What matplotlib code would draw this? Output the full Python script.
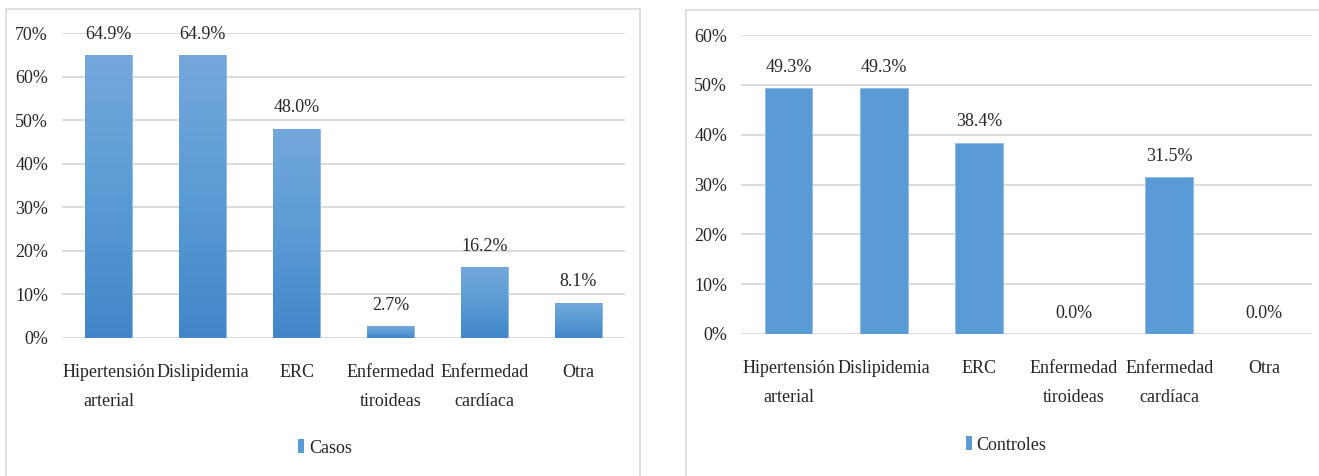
import numpy as np
import matplotlib
matplotlib.use("Agg")
import matplotlib.pyplot as plt
from matplotlib import patches as mpatches
from matplotlib.colors import LinearSegmentedColormap
from matplotlib.ticker import MultipleLocator, FuncFormatter

# ---------------- data ----------------
categorias = ["Hipertensión\narterial", "Dislipidemia", "ERC",
              "Enfermedad\ntiroideas", "Enfermedad\ncardíaca", "Otra"]
casos = [64.9, 64.9, 48.0, 2.7, 16.2, 8.1]
controles = [49.3, 49.3, 38.4, 0.0, 31.5, 0.0]

# ---------------- style ----------------
W, H = 1319, 476
DPI = 100
FONT = "Liberation Serif"
FS = 13
TXT = "#262626"
GRID = "#d9d9d9"
BLUE = "#5b9bd5"
plt.rcParams["font.family"] = [FONT, "DejaVu Serif"]

fig = plt.figure(figsize=(W / DPI, H / DPI), dpi=DPI)


def fx(px):
    return px / W


def fy(px):
    return 1 - px / H


# panel frames (light grey boxes around each chart)
for x0, y0, x1 in [(6, 9, 640), (686, 10, 1330)]:
    fig.patches.append(mpatches.Rectangle(
        (fx(x0), fy(H + 5)), fx(x1 - x0), (H + 5 - y0) / H,
        transform=fig.transFigure, fill=False, edgecolor=GRID, linewidth=1.2))

grad_cmap = LinearSegmentedColormap.from_list("g", ["#4186c8", "#5b9bd5", "#74a8dc"])


def draw_panel(rect, valores, ymax, leyenda, legend_x, legend_y, gradiente):
    ax = fig.add_axes(rect)
    x = np.arange(len(categorias))
    bars = ax.bar(x, valores, width=0.5, color=BLUE, edgecolor="#8fbbe6",
                  linewidth=0.6, zorder=2, label=leyenda)
    ax.set_xlim(-0.5, len(categorias) - 0.5)
    ax.set_ylim(0, ymax)

    if gradiente:
        grad = np.linspace(0, 1, 256).reshape(-1, 1)
        for b in bars:
            bx, bw, bh = b.get_x(), b.get_width(), b.get_height()
            if bh <= 0:
                continue
            im = ax.imshow(grad, cmap=grad_cmap, origin="lower", aspect="auto",
                           extent=(bx, bx + bw, 0, bh), zorder=2.1)
            im.set_clip_path(b)
        ax.set_xlim(-0.5, len(categorias) - 0.5)
        ax.set_ylim(0, ymax)

    ax.yaxis.set_major_locator(MultipleLocator(10))
    ax.yaxis.set_major_formatter(FuncFormatter(lambda v, p: f"{v:.0f}%"))
    ax.grid(axis="y", color=GRID, linewidth=1.3, zorder=0)
    ax.set_axisbelow(True)
    for s in ax.spines.values():
        s.set_visible(False)
    ax.tick_params(axis="both", length=0, labelsize=FS, colors=TXT)
    ax.tick_params(axis="y", pad=10)
    ax.tick_params(axis="x", pad=19)
    ax.set_xticks(x)
    ax.set_xticklabels(categorias, linespacing=1.9)

    for xi, v in zip(x, valores):
        ax.annotate(f"{v:.1f}%", (xi, v), xytext=(0, 9), textcoords="offset points",
                    ha="center", va="bottom", fontsize=FS, color=TXT, zorder=5,
                    annotation_clip=False)

    hnd = mpatches.Patch(facecolor=BLUE, edgecolor="none")
    fig.legend(handles=[hnd], labels=[leyenda], loc="center",
               bbox_to_anchor=(fx(legend_x), fy(legend_y)), frameon=False,
               fontsize=FS, handlelength=0.35, handleheight=0.8,
               handletextpad=0.25, labelcolor=TXT)
    return ax


draw_panel([fx(62), fy(338), fx(625 - 62), (338 - 33) / H], casos, 70,
           "Casos", 325, 448, True)
draw_panel([fx(741), fy(334), fx(1312 - 741), (334 - 35) / H], controles, 60,
           "Controles", 1006, 445, False)

fig.savefig("out.png", dpi=DPI)
